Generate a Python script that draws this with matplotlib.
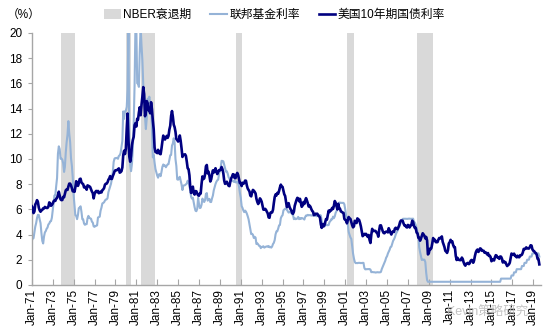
import numpy as np
import pandas as pd
import matplotlib
matplotlib.use("Agg")
import matplotlib.pyplot as plt
from matplotlib.patches import Patch
from matplotlib.lines import Line2D

plt.rcParams['font.family'] = ['Liberation Sans', 'Noto Sans CJK SC', 'DejaVu Sans']

# 美国10年期国债收益率（月均，%），1971-01 起
gs10 = [
    6.24, 6.11, 5.70, 5.83, 6.39, 6.52, 6.73, 6.58, 6.14, 5.93, 5.81, 5.93,  # 1971
    5.95, 6.08, 6.07, 6.19, 6.13, 6.11, 6.11, 6.21, 6.55, 6.48, 6.28, 6.36,  # 1972
    6.46, 6.64, 6.71, 6.67, 6.85, 6.90, 7.13, 7.40, 7.09, 6.79, 6.73, 6.74,  # 1973
    6.99, 6.96, 7.21, 7.51, 7.58, 7.54, 7.81, 8.04, 8.04, 7.90, 7.68, 7.43,  # 1974
    7.50, 7.39, 7.73, 8.23, 8.06, 7.86, 8.06, 8.40, 8.43, 8.14, 8.05, 8.00,  # 1975
    7.74, 7.79, 7.73, 7.56, 7.90, 7.86, 7.83, 7.77, 7.59, 7.41, 7.29, 6.87,  # 1976
    7.21, 7.39, 7.46, 7.37, 7.46, 7.28, 7.33, 7.40, 7.34, 7.52, 7.58, 7.69,  # 1977
    7.96, 8.03, 8.04, 8.15, 8.35, 8.46, 8.64, 8.41, 8.42, 8.64, 8.81, 9.01,  # 1978
    9.10, 9.10, 9.12, 9.18, 9.25, 8.91, 8.95, 9.03, 9.33, 10.30, 10.65, 10.39,  # 1979
    10.80, 12.41, 13.60, 11.47, 10.18, 9.78, 10.25, 11.10, 11.51, 11.75, 12.68, 12.84,  # 1980
    12.57, 13.19, 13.12, 13.68, 14.10, 13.47, 14.28, 14.94, 15.70, 15.15, 13.39, 13.72,  # 1981
    14.59, 14.43, 13.86, 13.87, 13.62, 14.50, 13.95, 13.06, 12.34, 10.91, 10.55, 10.54,  # 1982
    10.46, 10.72, 10.51, 10.40, 10.38, 10.85, 11.38, 11.85, 11.65, 11.54, 11.69, 11.83,  # 1983
    11.67, 11.84, 12.32, 12.63, 13.41, 13.80, 13.36, 12.72, 12.52, 12.16, 11.57, 11.50,  # 1984
    11.38, 11.51, 11.86, 11.43, 10.85, 10.16, 10.31, 10.33, 10.37, 10.24, 9.78, 9.26,  # 1985
    9.19, 8.70, 7.78, 7.30, 7.71, 7.80, 7.30, 7.17, 7.45, 7.43, 7.25, 7.11,  # 1986
    7.08, 7.25, 7.25, 8.02, 8.61, 8.40, 8.45, 8.76, 9.42, 9.52, 8.86, 8.99,  # 1987
    8.67, 8.21, 8.37, 8.72, 9.09, 8.92, 9.06, 9.26, 8.98, 8.80, 8.96, 9.11,  # 1988
    9.09, 9.17, 9.36, 9.18, 8.86, 8.28, 8.02, 8.11, 8.19, 8.01, 7.87, 7.84,  # 1989
    8.21, 8.47, 8.59, 8.79, 8.76, 8.48, 8.47, 8.75, 8.89, 8.72, 8.39, 8.08,  # 1990
    8.09, 7.85, 8.11, 8.04, 8.07, 8.28, 8.27, 7.90, 7.65, 7.53, 7.42, 7.09,  # 1991
    7.03, 7.34, 7.54, 7.48, 7.39, 7.26, 6.84, 6.59, 6.42, 6.59, 6.87, 6.77,  # 1992
    6.60, 6.26, 5.98, 5.97, 6.04, 5.96, 5.81, 5.68, 5.36, 5.33, 5.72, 5.77,  # 1993
    5.75, 5.97, 6.48, 6.97, 7.18, 7.10, 7.30, 7.24, 7.46, 7.74, 7.96, 7.81,  # 1994
    7.78, 7.47, 7.20, 7.06, 6.63, 6.17, 6.28, 6.49, 6.20, 6.04, 5.93, 5.71,  # 1995
    5.65, 5.81, 6.27, 6.51, 6.74, 6.91, 6.87, 6.64, 6.83, 6.53, 6.20, 6.30,  # 1996
    6.58, 6.42, 6.69, 6.89, 6.71, 6.49, 6.22, 6.30, 6.21, 6.03, 5.88, 5.81,  # 1997
    5.54, 5.57, 5.65, 5.64, 5.65, 5.50, 5.46, 5.34, 4.81, 4.53, 4.83, 4.65,  # 1998
    4.72, 5.00, 5.23, 5.18, 5.54, 5.90, 5.79, 5.94, 5.92, 6.11, 6.03, 6.28,  # 1999
    6.66, 6.52, 6.26, 5.99, 6.44, 6.10, 6.05, 5.83, 5.80, 5.74, 5.72, 5.24,  # 2000
    5.16, 5.10, 4.89, 5.14, 5.39, 5.28, 5.24, 4.97, 4.73, 4.57, 4.65, 5.09,  # 2001
    5.04, 4.91, 5.28, 5.21, 5.16, 4.93, 4.65, 4.26, 3.87, 3.94, 4.05, 4.03,  # 2002
    4.05, 3.90, 3.81, 3.96, 3.57, 3.33, 3.98, 4.45, 4.27, 4.29, 4.30, 4.27,  # 2003
    4.15, 4.08, 3.83, 4.35, 4.72, 4.73, 4.50, 4.28, 4.13, 4.10, 4.19, 4.23,  # 2004
    4.22, 4.17, 4.50, 4.34, 4.14, 4.00, 4.18, 4.26, 4.20, 4.46, 4.54, 4.47,  # 2005
    4.42, 4.57, 4.72, 4.99, 5.11, 5.11, 5.09, 4.88, 4.72, 4.73, 4.60, 4.56,  # 2006
    4.76, 4.72, 4.56, 4.69, 4.75, 5.10, 5.00, 4.67, 4.52, 4.53, 4.15, 4.10,  # 2007
    3.74, 3.74, 3.51, 3.68, 3.88, 4.10, 4.01, 3.89, 3.69, 3.81, 3.53, 2.42,  # 2008
    2.52, 2.87, 2.82, 2.93, 3.29, 3.72, 3.56, 3.59, 3.40, 3.39, 3.40, 3.59,  # 2009
    3.73, 3.69, 3.73, 3.85, 3.42, 3.20, 3.01, 2.70, 2.65, 2.54, 2.76, 3.29,  # 2010
    3.39, 3.58, 3.41, 3.46, 3.17, 3.00, 3.00, 2.30, 1.98, 2.15, 2.01, 1.98,  # 2011
    1.97, 1.97, 2.17, 2.05, 1.80, 1.62, 1.53, 1.68, 1.72, 1.75, 1.65, 1.72,  # 2012
    1.91, 1.98, 1.96, 1.76, 1.93, 2.30, 2.58, 2.74, 2.81, 2.62, 2.72, 2.90,  # 2013
    2.86, 2.71, 2.72, 2.71, 2.56, 2.60, 2.54, 2.42, 2.53, 2.30, 2.33, 2.21,  # 2014
    1.88, 1.98, 2.04, 1.94, 2.20, 2.36, 2.32, 2.17, 2.17, 2.07, 2.26, 2.24,  # 2015
    2.09, 1.78, 1.89, 1.81, 1.81, 1.64, 1.50, 1.56, 1.63, 1.76, 2.14, 2.49,  # 2016
    2.43, 2.42, 2.48, 2.30, 2.30, 2.19, 2.32, 2.21, 2.20, 2.36, 2.35, 2.40,  # 2017
    2.58, 2.86, 2.84, 2.87, 2.98, 2.91, 2.89, 2.89, 3.00, 3.15, 3.12, 2.83,  # 2018
    2.71, 2.68, 2.57, 2.53, 2.40, 2.07, 2.06, 1.63,                          # 2019
]

# 联邦基金利率（%），1971-01 起
fedfunds = [
    3.50, 3.72, 3.71, 4.15, 4.63, 4.91, 5.31, 5.56, 5.55, 5.20, 4.91, 4.14,  # 1971
    3.50, 3.29, 3.83, 4.17, 4.27, 4.46, 4.55, 4.80, 4.87, 5.04, 5.06, 5.33,  # 1972
    5.94, 6.58, 7.09, 7.12, 7.84, 8.49, 10.40, 11.00, 10.78, 10.01, 10.03, 9.95,  # 1973
    9.65, 8.97, 9.35, 10.51, 11.31, 11.93, 13.00, 12.01, 11.34, 10.06, 9.45, 8.53,  # 1974
    7.13, 6.24, 5.54, 5.49, 5.22, 5.55, 6.10, 6.14, 6.24, 5.82, 5.22, 5.20,  # 1975
    4.87, 4.77, 4.84, 4.82, 5.29, 5.48, 5.31, 5.29, 5.25, 5.02, 4.95, 4.65,  # 1976
    4.61, 4.68, 4.69, 4.73, 5.35, 5.39, 5.42, 5.90, 6.14, 6.47, 6.51, 6.56,  # 1977
    6.70, 6.78, 6.79, 6.89, 7.36, 7.60, 7.81, 8.04, 8.45, 8.96, 9.76, 10.03,  # 1978
    10.07, 10.06, 10.09, 10.01, 10.24, 10.29, 10.47, 10.94, 11.43, 13.77, 13.18, 13.78,  # 1979
    13.82, 14.13, 15.50, 20.50, 10.98, 9.47, 9.03, 9.61, 10.87, 12.81, 15.85, 20.50,  # 1980
    20.50, 16.00, 16.00, 15.72, 18.52, 20.50, 19.04, 17.82, 15.87, 15.08, 13.31, 12.37,  # 1981
    13.22, 14.78, 14.68, 14.94, 14.45, 14.15, 12.59, 10.12, 10.31, 9.71, 9.20, 8.95,  # 1982
    8.68, 8.51, 8.77, 8.80, 8.63, 8.98, 9.37, 9.56, 9.45, 9.48, 9.34, 9.47,  # 1983
    9.56, 9.59, 9.91, 10.29, 10.32, 11.06, 11.23, 11.64, 11.30, 9.99, 9.43, 8.38,  # 1984
    8.35, 8.50, 8.58, 8.27, 7.97, 7.53, 7.88, 7.90, 7.92, 7.99, 8.05, 8.27,  # 1985
    8.14, 7.86, 7.48, 6.99, 6.85, 6.92, 6.56, 6.17, 5.89, 5.85, 6.04, 6.91,  # 1986
    6.43, 6.10, 6.13, 6.37, 6.85, 6.73, 6.58, 6.73, 7.22, 7.29, 6.69, 6.77,  # 1987
    6.83, 6.58, 6.58, 6.87, 7.09, 7.51, 7.75, 8.01, 8.19, 8.30, 8.35, 8.76,  # 1988
    9.12, 9.36, 9.85, 9.84, 9.81, 9.53, 9.24, 8.99, 9.02, 8.84, 8.55, 8.45,  # 1989
    8.23, 8.24, 8.28, 8.26, 8.18, 8.29, 8.15, 8.13, 8.20, 8.11, 7.81, 7.31,  # 1990
    6.91, 6.25, 6.12, 5.91, 5.78, 5.90, 5.82, 5.66, 5.45, 5.21, 4.81, 4.43,  # 1991
    4.03, 4.06, 3.98, 3.73, 3.82, 3.76, 3.25, 3.30, 3.22, 3.10, 3.09, 2.92,  # 1992
    3.02, 3.03, 3.07, 2.96, 3.00, 3.04, 3.06, 3.03, 3.09, 2.99, 3.02, 2.96,  # 1993
    3.05, 3.25, 3.34, 3.56, 4.01, 4.25, 4.26, 4.47, 4.73, 4.76, 5.29, 5.45,  # 1994
    5.53, 5.92, 5.98, 6.05, 6.01, 6.00, 5.85, 5.74, 5.80, 5.76, 5.80, 5.60,  # 1995
    5.56, 5.22, 5.31, 5.22, 5.24, 5.27, 5.40, 5.22, 5.30, 5.24, 5.31, 5.29,  # 1996
    5.25, 5.19, 5.39, 5.51, 5.50, 5.56, 5.52, 5.54, 5.54, 5.50, 5.52, 5.50,  # 1997
    5.56, 5.51, 5.49, 5.45, 5.49, 5.56, 5.54, 5.55, 5.51, 5.07, 4.83, 4.68,  # 1998
    4.63, 4.76, 4.81, 4.74, 4.74, 4.76, 4.99, 5.07, 5.22, 5.20, 5.42, 5.30,  # 1999
    5.45, 5.73, 5.85, 6.02, 6.27, 6.53, 6.54, 6.50, 6.52, 6.51, 6.51, 6.40,  # 2000
    5.98, 5.49, 5.31, 4.80, 4.21, 3.97, 3.77, 3.65, 3.07, 2.49, 2.09, 1.82,  # 2001
    1.73, 1.74, 1.73, 1.75, 1.75, 1.75, 1.73, 1.74, 1.75, 1.75, 1.34, 1.24,  # 2002
    1.24, 1.26, 1.25, 1.26, 1.26, 1.22, 1.01, 1.03, 1.01, 1.01, 1.00, 0.98,  # 2003
    1.00, 1.01, 1.00, 1.00, 1.00, 1.03, 1.26, 1.43, 1.61, 1.76, 1.93, 2.16,  # 2004
    2.28, 2.50, 2.63, 2.79, 3.00, 3.04, 3.26, 3.50, 3.62, 3.78, 4.00, 4.16,  # 2005
    4.29, 4.49, 4.59, 4.79, 4.94, 4.99, 5.24, 5.25, 5.25, 5.25, 5.25, 5.24,  # 2006
    5.25, 5.26, 5.26, 5.25, 5.25, 5.25, 5.26, 5.02, 4.94, 4.76, 4.49, 4.24,  # 2007
    3.94, 2.98, 2.61, 2.28, 1.98, 2.00, 2.01, 2.00, 1.81, 0.97, 0.39, 0.25,  # 2008
    0.25, 0.25, 0.25, 0.25, 0.25, 0.25, 0.25, 0.25, 0.25, 0.25, 0.25, 0.25,  # 2009
    0.25, 0.25, 0.25, 0.25, 0.25, 0.25, 0.25, 0.25, 0.25, 0.25, 0.25, 0.25,  # 2010
    0.25, 0.25, 0.25, 0.25, 0.25, 0.25, 0.25, 0.25, 0.25, 0.25, 0.25, 0.25,  # 2011
    0.25, 0.25, 0.25, 0.25, 0.25, 0.25, 0.25, 0.25, 0.25, 0.25, 0.25, 0.25,  # 2012
    0.25, 0.25, 0.25, 0.25, 0.25, 0.25, 0.25, 0.25, 0.25, 0.25, 0.25, 0.25,  # 2013
    0.25, 0.25, 0.25, 0.25, 0.25, 0.25, 0.25, 0.25, 0.25, 0.25, 0.25, 0.25,  # 2014
    0.25, 0.25, 0.25, 0.25, 0.25, 0.25, 0.25, 0.25, 0.25, 0.25, 0.25, 0.50,  # 2015
    0.50, 0.50, 0.50, 0.50, 0.50, 0.50, 0.50, 0.50, 0.50, 0.50, 0.50, 0.75,  # 2016
    0.75, 0.75, 1.00, 1.00, 1.00, 1.25, 1.25, 1.25, 1.25, 1.25, 1.25, 1.50,  # 2017
    1.50, 1.50, 1.75, 1.75, 1.75, 2.00, 2.00, 2.00, 2.25, 2.25, 2.25, 2.50,  # 2018
    2.50, 2.50, 2.50, 2.50, 2.50, 2.50, 2.50, 2.25,                          # 2019
]

# NBER衰退期（起止月份）
rec_start = ['1973-11-01', '1980-01-01', '1981-07-01', '1990-07-01', '2001-03-01', '2007-12-01']
rec_end = ['1975-03-01', '1980-07-01', '1982-11-01', '1991-03-01', '2001-11-01', '2009-06-01']

# 横轴刻度：每两年一月
tick_years = list(range(1971, 2020, 2))

dates = pd.date_range('1971-01-01', periods=len(gs10), freq='MS')

fig = plt.figure(figsize=(5.49, 3.36), dpi=100)
ax = fig.add_axes([0.058, 0.152, 0.927, 0.75])

for s, e in zip(rec_start, rec_end):
    ax.axvspan(pd.Timestamp(s), pd.Timestamp(e), color='#d9d9d9', lw=0, zorder=0)

ax.plot(dates, fedfunds, color='#95b3d7', lw=1.5, zorder=2)
ax.plot(dates, gs10, color='#000080', lw=1.9, zorder=3)

ax.set_ylim(0, 20)
ax.set_yticks(np.arange(0, 21, 2))
ax.set_xlim(pd.Timestamp('1971-01-01'), pd.Timestamp('2019-09-20'))
ticks = [pd.Timestamp(f'{y}-01-01') for y in tick_years]
ax.set_xticks(ticks)
ax.set_xticklabels([t.strftime('%b-%y') for t in ticks], rotation=90)

for sp in ['top', 'right']:
    ax.spines[sp].set_visible(False)
for sp in ['left', 'bottom']:
    ax.spines[sp].set_color('#a6a6a6')
    ax.spines[sp].set_linewidth(1.0)
ax.tick_params(axis='x', direction='in', length=4, color='#a6a6a6', labelsize=8.5, pad=3)
ax.tick_params(axis='y', direction='out', length=3, color='#a6a6a6', labelsize=8.5, pad=4)

fig.text(0.012, 0.955, '（%）', fontsize=8.5, va='center', ha='left')

handles = [
    Patch(facecolor='#d9d9d9', edgecolor='none'),
    Line2D([], [], color='#95b3d7', lw=1.5),
    Line2D([], [], color='#000080', lw=1.9),
]
labels = ['NBER衰退期', '联邦基金利率', '美国10年期国债利率']
fig.legend(handles, labels, loc='center', bbox_to_anchor=(0.5, 0.955), ncol=3,
           frameon=False, fontsize=8.5, handlelength=1.4, handletextpad=0.2,
           columnspacing=1.6, handleheight=0.9)

# 水印
fig.text(0.814, 0.068, 'Kevin策略研究', fontsize=9, color='#b4b4b4', alpha=0.8,
         ha='left', va='center')

fig.savefig('out.png', dpi=100)
